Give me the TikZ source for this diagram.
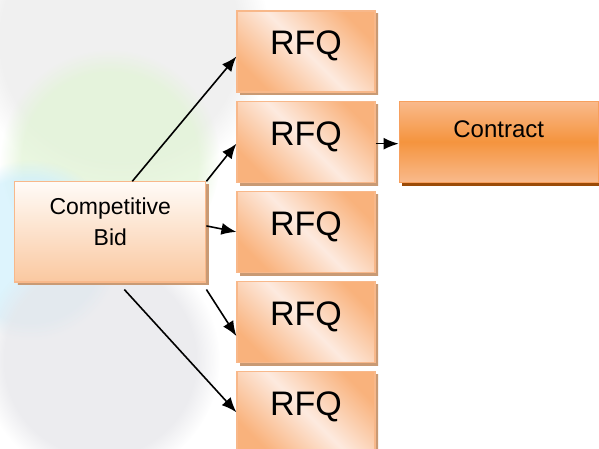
\documentclass[tikz,border=0pt]{standalone}
\usepackage{fontspec}
\setmainfont{Liberation Sans}
\usetikzlibrary{arrows.meta,positioning,shadows,fadings}
\definecolor{peachdark}{HTML}{F9B27C}
\definecolor{peachlight}{HTML}{FDEADF}
\definecolor{peachline}{HTML}{F8B88A}
\definecolor{bidtop}{HTML}{FFFBF7}
\definecolor{bidbottom}{HTML}{FAC8A0}
\definecolor{contractlight}{HTML}{F9BA8C}
\definecolor{contractmid}{HTML}{F5943E}
\definecolor{contractline}{HTML}{F7A05E}
\definecolor{shadowpeach}{HTML}{C99A74}
\definecolor{shadowbrown}{HTML}{9B4B08}

\begin{document}
\begin{tikzpicture}[
        x=1pt, y=-1pt,
        node distance=8pt and 30pt,
        peachshadow/.style={drop shadow={shadow xshift=3pt, shadow yshift=-3pt, opacity=1,
            top color=shadowpeach, bottom color=shadowpeach, middle color=shadowpeach}},
        rfq/.style={rectangle, draw=peachline, line width=1.2pt, peachshadow,
            top color=peachdark, bottom color=peachdark, middle color=peachlight,
            shading angle=-45,
            minimum width=138pt, inner xsep=0pt,
            inner ysep=19pt, text height=25pt, text depth=18pt,
            font=\fontsize{34}{40}\selectfont},
        bidbox/.style={rectangle, draw=peachline, line width=1.2pt, peachshadow,
            top color=bidtop, bottom color=bidbottom,
            minimum width=191pt, inner xsep=0pt,
            inner ysep=17pt, text height=47pt, text depth=19pt,
            align=center, font=\fontsize{23}{31}\selectfont},
        contractbox/.style={rectangle, draw=contractline, line width=1.2pt,
            top color=contractlight, bottom color=contractlight, middle color=contractmid,
            drop shadow={shadow xshift=3pt, shadow yshift=-3pt, opacity=1,
                top color=shadowbrown, bottom color=shadowbrown, middle color=shadowbrown},
            minimum width=199pt, inner xsep=0pt,
            inner ysep=8pt, text height=28pt, text depth=37pt,
            font=\fontsize{24}{28}\selectfont},
        haze/.style={path fading=circle with fuzzy edge 20 percent, opacity=0.75},
        link/.style={-{Latex[length=15pt,width=12pt]}, line width=1.6pt, black}
    ]
        \useasboundingbox (0,0) rectangle (599,449);

        % faded photo behind the left part
        \fill[gray!16, haze] (120,40) circle (150);
        \fill[yellow!30!green!16, haze] (110,160) circle (110);
        \fill[cyan!18, haze] (30,250) circle (90);
        \fill[blue!10!gray!18, haze] (100,360) circle (120);

        \node[rfq] at (306,51.5) (r1) {RFQ};
        \node[rfq, below=of r1] (r2) {RFQ};
        \node[rfq, below=of r2] (r3) {RFQ};
        \node[rfq, below=of r3] (r4) {RFQ};
        \node[rfq, below=of r4] (r5) {RFQ};

        \node[bidbox, left=of r3] (bid) {Competitive\\Bid};
        \node[contractbox, right=23pt of r2] (contract) {Contract};

        \draw[link] ([xshift=22pt]bid.north) -- ([yshift=-5pt]r1.west);
        \draw[link] (bid.north east) -- ([yshift=-2pt]r2.west);
        \draw[link] ([yshift=6pt]bid.east) -- (r3.west);
        \draw[link] ([yshift=-7pt]bid.south east) -- ([yshift=-14pt]r4.west);
        \draw[link] ([xshift=14pt,yshift=-7pt]bid.south) -- (r5.west);
        \draw[link] ([yshift=-2pt]r2.east) -- ([yshift=-2pt]contract.west);
    \end{tikzpicture}
\end{document}
